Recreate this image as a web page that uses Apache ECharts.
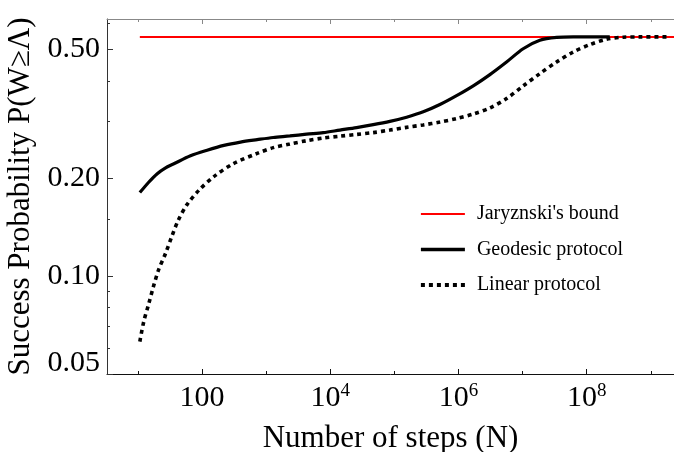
<!DOCTYPE html>
<html>
<head>
<meta charset="utf-8">
<script src="https://cdn.jsdelivr.net/npm/echarts@6/dist/echarts.min.js"></script>
<style>html,body{margin:0;padding:0;background:#fff}#c{width:674px;height:452px}</style>
</head>
<body>
<div id="c"></div>
<script>
// ---- data ----
const geoN = [10.7, 14.6, 20, 26.6, 36.3, 66, 120, 219, 398, 724, 1288, 2344, 4266, 7762, 1.41e4, 2.57e4, 4.68e4, 8.51e4, 1.55e5, 2.82e5, 5.13e5, 9.33e5, 1.70e6, 3.09e6, 5.62e6, 1.02e7, 1.86e7, 3.39e7, 6.17e7, 1.12e8, 2.29e8];
const geoP = [0.181, 0.1945, 0.207, 0.2155, 0.222, 0.235, 0.2445, 0.253, 0.259, 0.2635, 0.2676, 0.2705, 0.274, 0.277, 0.282, 0.287, 0.293, 0.300, 0.309, 0.321, 0.338, 0.360, 0.386, 0.418, 0.457, 0.502, 0.533, 0.544, 0.546, 0.546, 0.546];
const linN = [10.7, 12.3, 14.8, 17.4, 20.9, 26.9, 33.9, 42.7, 57.5, 89, 151, 309, 724, 1288, 2344, 4266, 7762, 1.41e4, 2.57e4, 4.68e4, 8.51e4, 1.55e5, 2.82e5, 5.13e5, 9.33e5, 1.70e6, 3.09e6, 5.62e6, 1.02e7, 1.86e7, 3.39e7, 6.17e7, 1.12e8, 2.04e8, 3.72e8, 6.76e8, 2.0e9];
const linP = [0.0629, 0.0724, 0.0825, 0.0928, 0.1045, 0.1175, 0.133, 0.149, 0.1656, 0.184, 0.2024, 0.2224, 0.239, 0.249, 0.2555, 0.2615, 0.2665, 0.270, 0.2735, 0.277, 0.282, 0.2875, 0.2925, 0.2985, 0.306, 0.316, 0.330, 0.3526, 0.3856, 0.421, 0.457, 0.4905, 0.517, 0.537, 0.545, 0.546, 0.546];
const boundN = [10.7, 2.3e9];
const boundP = [0.546, 0.546];

const xMajor = [100, 1e4, 1e6, 1e8];
const xMinor = [10, 1e3, 1e5, 1e7, 1e9];
const yMajor = [0.05, 0.1, 0.2, 0.5];
const yMinor = [0.06, 0.07, 0.08, 0.09, 0.15, 0.3, 0.4, 0.6];
const seriesNames = ["Jaryznski's bound", "Geodesic protocol", "Linear protocol"];

const X_MIN = 3.29, X_MAX = 2.3e9, Y_MIN = 0.05, Y_MAX = 0.62;
const FONT = 'Liberation Serif';

const zip = (a, b) => a.map((v, i) => [v, b[i]]);

function xFmt(v) {
  const e = Math.round(Math.log10(v));
  if (e === 2) return '100';
  return '10{s|' + e + '}';
}

const baseX = (pos, ticks, len, lineColor, showLine, showLabel) => ({
  type: 'log', logBase: 10, min: X_MIN, max: X_MAX, position: pos,
  axisLine: { show: showLine, lineStyle: { color: lineColor, width: 1 } },
  axisTick: { show: true, inside: true, length: len, customValues: ticks, lineStyle: { color: lineColor, width: 1 } },
  axisLabel: showLabel ? {
    show: true, customValues: ticks, formatter: xFmt, margin: 4,
    fontFamily: FONT, fontSize: 30, color: '#000', lineHeight: 40,
    rich: { s: { fontFamily: FONT, fontSize: 19, color: '#000', lineHeight: 19, padding: [0, 0, 14, 0] } }
  } : { show: false },
  splitLine: { show: false }, minorTick: { show: false }, minorSplitLine: { show: false }
});

const baseY = (ticks, len, lineColor, showLine, showLabel) => ({
  type: 'log', logBase: 10, min: Y_MIN, max: Y_MAX, position: 'left',
  axisLine: { show: showLine, lineStyle: { color: lineColor, width: 1 } },
  axisTick: { show: true, inside: true, length: len, customValues: ticks, lineStyle: { color: lineColor, width: 1 } },
  axisLabel: showLabel ? {
    show: true, customValues: ticks, margin: 7,
    fontFamily: FONT, fontSize: 30, color: '#000',
    formatter: v => (Math.abs(v - 0.05) < 1e-9 ? '{low|0.05}' : v.toFixed(2)),
    rich: { low: { fontFamily: FONT, fontSize: 30, color: '#000', padding: [0, 0, 22, 0] } }
  } : { show: false },
  splitLine: { show: false }, minorTick: { show: false }, minorSplitLine: { show: false }
});

const chart = echarts.init(document.getElementById('c'), null, { renderer: 'canvas' });
const yMain = baseY(yMajor, 6, '#333', true, true);
yMain.name = 'Success Probability P(W\u2265\u039B)';
yMain.nameLocation = 'middle';
yMain.nameGap = 64;
yMain.nameTextStyle = { fontFamily: FONT, fontSize: 31, color: '#000' };

const xMain = baseX('bottom', xMajor, 5, '#111', true, true);
xMain.name = 'Number of steps (N)';
xMain.nameLocation = 'middle';
xMain.nameGap = 47;
xMain.nameTextStyle = { fontFamily: FONT, fontSize: 31, color: '#000' };

chart.setOption({
  animation: false,
  backgroundColor: '#fff',
  grid: { left: 107, right: 0, top: 19, bottom: 78, containLabel: false, outerBoundsMode: 'none' },
  legend: {
    show: true, orient: 'vertical', left: 419, top: 204, padding: 0,
    itemWidth: 44, itemHeight: 14, itemGap: 15.5,
    data: [
      { name: seriesNames[0], lineStyle: { width: 2.2 } },
      { name: seriesNames[1], lineStyle: { width: 3.6 } },
      { name: seriesNames[2], lineStyle: { width: 3.8 } }
    ],
    itemStyle: { color: 'rgba(0,0,0,0)', borderColor: 'rgba(0,0,0,0)', borderWidth: 0, opacity: 0 },
    textStyle: { fontFamily: FONT, fontSize: 20, color: '#000', padding: [0, 0, 0, 7] }
  },
  xAxis: [
    xMain,
    baseX('bottom', xMinor, 3, '#111', false, false),
    baseX('top', xMajor, 5, '#888', true, false),
    baseX('top', xMinor, 3, '#888', false, false)
  ],
  yAxis: [
    yMain,
    baseY(yMinor, 3, '#333', false, false)
  ],
  series: [
    { name: seriesNames[0], type: 'line', xAxisIndex: 0, yAxisIndex: 0, data: zip(boundN, boundP),
      symbol: 'none', showSymbol: false, lineStyle: { color: '#ff0000', width: 2 }, itemStyle: { color: '#ff0000' }, z: 2 },
    { name: seriesNames[1], type: 'line', xAxisIndex: 0, yAxisIndex: 0, data: zip(geoN, geoP),
      symbol: 'none', showSymbol: false, smooth: 0.3,
      lineStyle: { color: '#000', width: 3.2 }, itemStyle: { color: '#000' }, z: 3 },
    { name: seriesNames[2], type: 'line', xAxisIndex: 0, yAxisIndex: 0, data: zip(linN, linP),
      symbol: 'none', showSymbol: false, smooth: 0.3,
      lineStyle: { color: '#000', width: 3.6, type: [4, 4] }, itemStyle: { color: '#000' }, z: 4 }
  ]
});
</script>
</body>
</html>
